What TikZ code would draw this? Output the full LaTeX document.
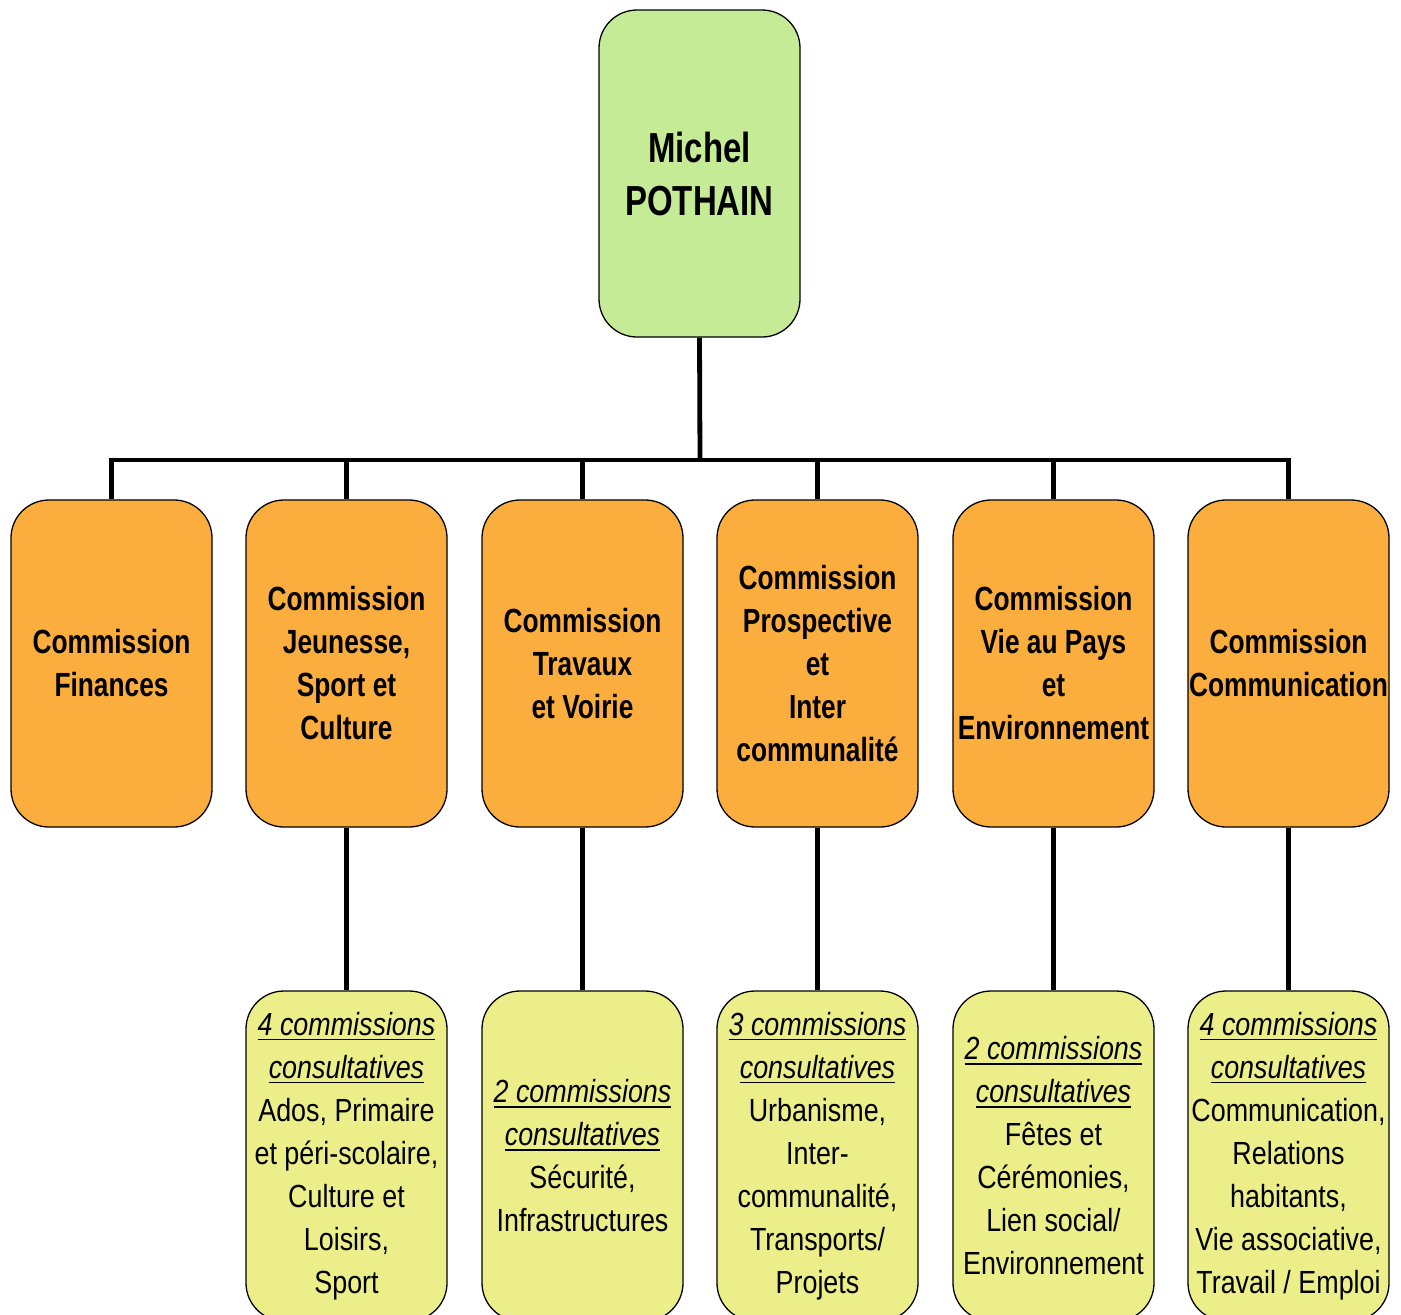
\documentclass[tikz,border=0pt]{standalone}
\usepackage{fontspec}
\setmainfont[FakeStretch=0.84,BoldFeatures={FakeStretch=0.785}]{Liberation Sans}
\definecolor{bossgreen}{RGB}{197,235,150}
\definecolor{comorange}{RGB}{251,174,61}
\definecolor{subyellow}{RGB}{236,238,137}
\newcommand{\myul}[1]{\setbox0=\hbox{#1}\leavevmode\vtop{\copy0\kern3pt\hrule height 1.6pt}}
\begin{document}
\begin{tikzpicture}[x=1pt,y=-1pt,
  card/.style={draw=black,line width=1.3pt,rounded corners=38pt,
    minimum width=201pt,minimum height=327pt,align=center,inner sep=0pt},
  boss/.style={card,fill=bossgreen,font=\fontsize{42}{53}\selectfont\bfseries},
  com/.style={card,fill=comorange,font=\fontsize{33.5}{43}\selectfont\bfseries},
  sub/.style={card,fill=subyellow,minimum height=330pt,font=\fontsize{32}{43}\selectfont},
  conn/.style={line width=4.8pt}]
\clip (0,0) rectangle (1401,1315);
\node[boss] (boss) at (699.5,173.5) {Michel\\POTHAIN};
\node[com] (c1) at (111.5,663.5) {Commission\\Finances};
\node[com] (c2) at (346.5,663.5) {Commission\\Jeunesse,\\Sport et\\Culture};
\node[com] (c3) at (582.5,663.5) {Commission\\Travaux\\et Voirie};
\node[com] (c4) at (817.5,663.5) {Commission\\Prospective\\et\\Inter\\communalit\'e};
\node[com] (c5) at (1053.5,663.5) {Commission\\Vie au Pays\\et\\Environnement};
\node[com] (c6) at (1288.5,663.5) {Commission\\Communication};
\node[sub] (d2) at (346.5,1156) {\myul{\itshape 4 commissions}\\\myul{\itshape consultatives}\\Ados, Primaire\\et p\'eri-scolaire,\\Culture et\\Loisirs,\\Sport};
\node[sub] (d3) at (582.5,1156) {\myul{\itshape 2 commissions}\\\myul{\itshape consultatives}\\S\'ecurit\'e,\\Infrastructures};
\node[sub] (d4) at (817.5,1156) {\myul{\itshape 3 commissions}\\\myul{\itshape consultatives}\\Urbanisme,\\Inter-\\communalit\'e,\\Transports/\\Projets};
\node[sub] (d5) at (1053.5,1156) {\myul{\itshape 2 commissions}\\\myul{\itshape consultatives}\\F\^etes et\\C\'er\'emonies,\\Lien social/\\Environnement};
\node[sub] (d6) at (1288.5,1156) {\myul{\itshape 4 commissions}\\\myul{\itshape consultatives}\\Communication,\\Relations\\habitants,\\Vie associative,\\Travail / Emploi};
\coordinate (bus) at (700,460);
\draw[conn] (boss.south) -- (bus);
\draw[conn] (c1.north) |- (bus) -| (c6.north);
\foreach \i in {2,3,4,5} \draw[conn] (c\i.north) -- (c\i.north |- bus);
\foreach \i in {2,3,4,5,6} \draw[conn] (c\i.south) -- (d\i.north);
\end{tikzpicture}
\end{document}
